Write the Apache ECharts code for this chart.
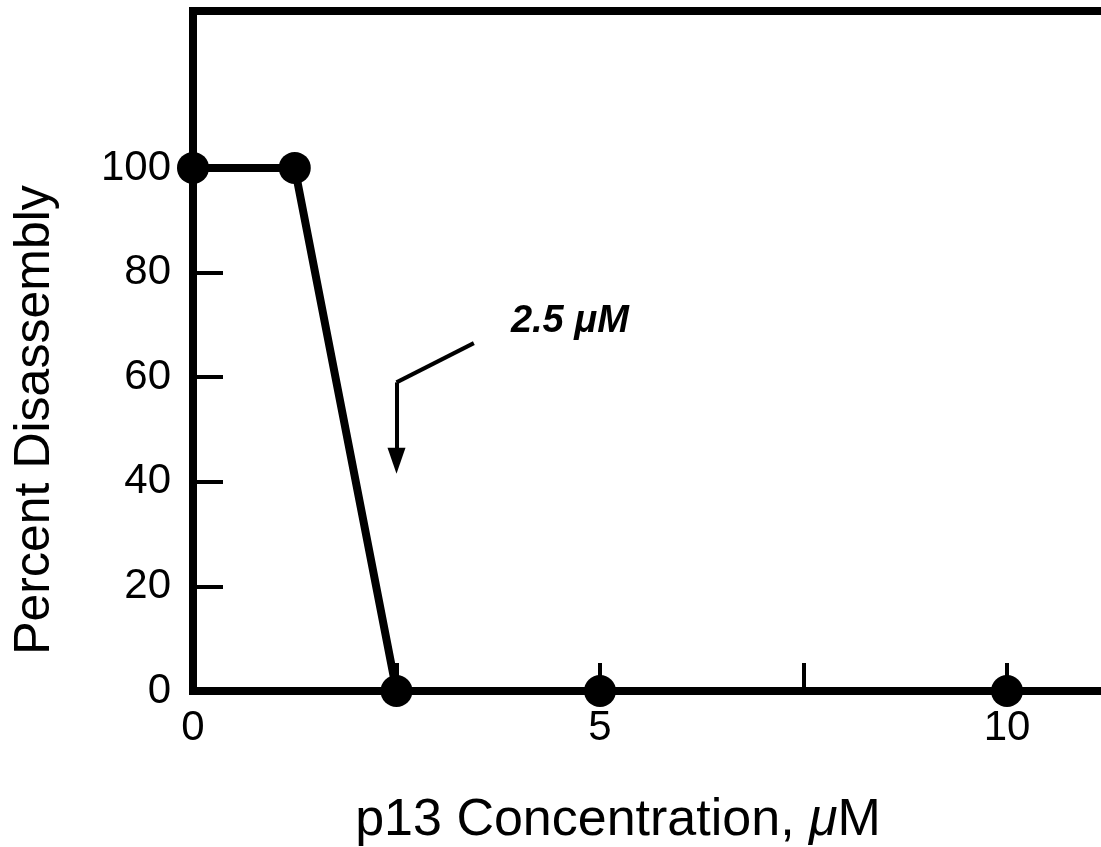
<!DOCTYPE html>
<html>
<head>
<meta charset="utf-8">
<script src="https://cdn.jsdelivr.net/npm/echarts@6/dist/echarts.min.js"></script>
<style>
  html, body { margin: 0; padding: 0; background: #fff; }
  #chart { width: 1101px; height: 847px; }
</style>
</head>
<body>
<div id="chart"></div>
<script>
// p13 concentration (uM) vs percent disassembly
const concentration = [0, 1.25, 2.5, 5, 10]
const disassembly = [100, 100, 0, 0, 0]

const xTickValues = [2.5, 5, 7.5, 10]
const xLabelValues = [0, 5, 10]
const yTickValues = [20, 40, 60, 80, 100]
const yLabelValues = [0, 20, 40, 60, 80, 100]

// annotation "2.5 uM" with its bent arrow, in data units
const noteText = '2.5 μM'
const notePos = [4.63, 70.6]
const arrowPath = [[3.45, 66.5], [2.5, 59], [2.5, 44]]

const font = 'Liberation Sans, Arial, Helvetica, sans-serif'

const option = {
  backgroundColor: '#fff',
  animation: false,
  grid: {
    left: 193,
    top: 11,
    width: 1017.5, // plot runs past the right edge of the picture
    bottom: 156,
    outerBoundsMode: 'none',
    show: true,
    borderColor: '#000',
    borderWidth: 8,
    backgroundColor: 'transparent'
  },
  xAxis: {
    type: 'value',
    min: 0,
    max: 12.5,
    axisLine: { show: true, lineStyle: { color: '#000', width: 8 } },
    axisTick: {
      show: true,
      inside: true,
      length: 28,
      customValues: xTickValues,
      lineStyle: { color: '#000', width: 4 }
    },
    axisLabel: {
      customValues: xLabelValues,
      margin: 16,
      color: '#000',
      fontSize: 42,
      fontFamily: font
    },
    splitLine: { show: false }
  },
  yAxis: {
    type: 'value',
    min: 0,
    max: 130,
    axisLine: { show: true, lineStyle: { color: '#000', width: 8 } },
    axisTick: {
      show: true,
      inside: true,
      length: 30,
      customValues: yTickValues,
      lineStyle: { color: '#000', width: 4 }
    },
    axisLabel: {
      customValues: yLabelValues,
      margin: 22,
      color: '#000',
      fontSize: 42,
      fontFamily: font
    },
    splitLine: { show: false }
  },
  series: [{
    type: 'line',
    clip: false,
    symbol: 'circle',
    symbolSize: 32,
    lineStyle: { color: '#000', width: 8 },
    itemStyle: { color: '#000' },
    data: concentration.map((x, i) => [x, disassembly[i]]),
    markLine: {
      silent: true,
      symbol: ['none', 'triangle'],
      symbolSize: [18, 26],
      label: { show: false },
      lineStyle: { color: '#000', width: 4, type: 'solid' },
      data: [
        [{ coord: arrowPath[0], symbol: 'none' }, { coord: arrowPath[1], symbol: 'none' }],
        [{ coord: arrowPath[1], symbol: 'none' }, { coord: arrowPath[2] }]
      ]
    },
    markPoint: {
      silent: true,
      symbol: 'rect',
      symbolSize: 1,
      itemStyle: { color: 'transparent' },
      label: {
        show: true,
        position: 'inside',
        color: '#000',
        fontSize: 38,
        fontWeight: 'bold',
        fontStyle: 'italic',
        fontFamily: font,
        formatter: noteText
      },
      data: [{ coord: notePos }]
    }
  }],
  graphic: [
    {
      type: 'text',
      x: 618,
      y: 821,
      style: {
        text: 'p13 Concentration, {mu|μ}M',
        rich: { mu: { fontStyle: 'italic', fontSize: 52, fontFamily: font, fill: '#000' } },
        fill: '#000',
        fontSize: 52,
        fontFamily: font,
        align: 'center',
        verticalAlign: 'middle'
      }
    },
    {
      type: 'text',
      x: 35,
      y: 420,
      rotation: Math.PI / 2,
      style: {
        text: 'Percent Disassembly',
        fill: '#000',
        fontSize: 50,
        fontFamily: font,
        align: 'center',
        verticalAlign: 'middle'
      }
    }
  ]
}

const myChart = echarts.init(document.getElementById('chart'))
myChart.setOption(option)
</script>
</body>
</html>
